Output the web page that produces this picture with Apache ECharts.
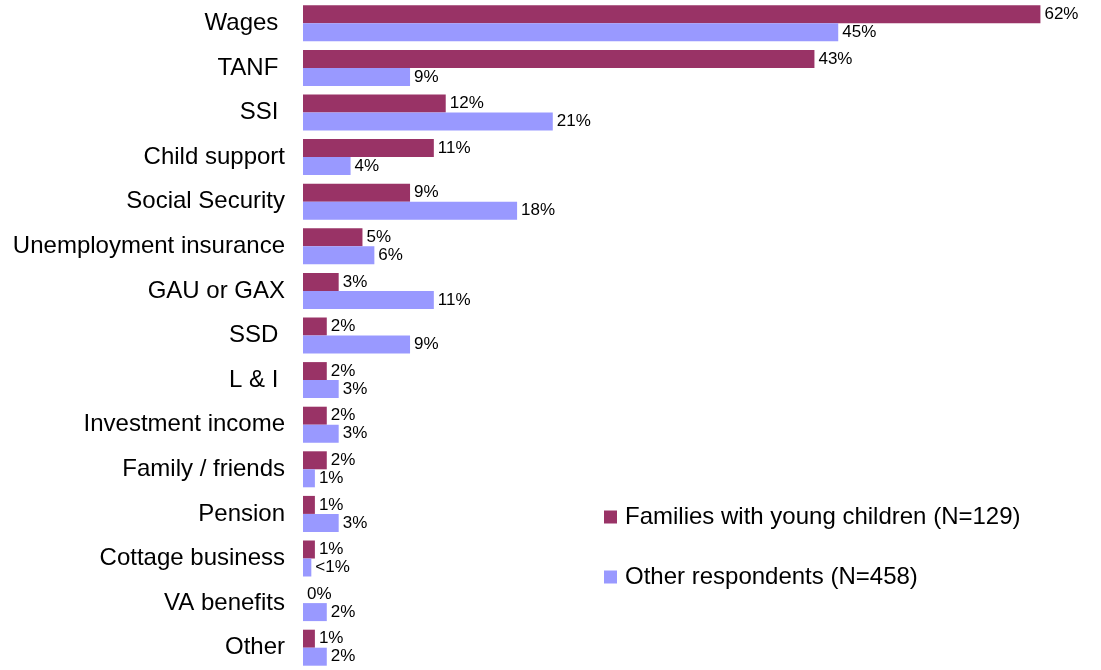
<!DOCTYPE html>
<html>
<head>
<meta charset="utf-8">
<script src="https://cdn.jsdelivr.net/npm/echarts@6/dist/echarts.min.js"></script>
<style>
  html, body { margin: 0; padding: 0; background: #fff; }
  #chart { width: 1101px; height: 670px; }
</style>
</head>
<body>
<div id="chart"></div>
<script>
// Income sources, listed top to bottom
const categories = [
  'Wages ', 'TANF ', 'SSI ', 'Child support', 'Social Security',
  'Unemployment insurance', 'GAU or GAX', 'SSD ', 'L & I ', 'Investment income',
  'Family / friends', 'Pension', 'Cottage business', 'VA benefits', 'Other'
];

// Share of respondents (%) reporting each source
const familiesValues = [62, 43, 12, 11, 9, 5, 3, 2, 2, 2, 2, 1, 1, 0, 1];
const otherValues    = [45, 9, 21, 4, 18, 6, 11, 9, 3, 3, 1, 3, 0.7, 2, 2];

// Printed labels (one value is only reported as "<1%")
const familiesLabels = ['62%', '43%', '12%', '11%', '9%', '5%', '3%', '2%', '2%', '2%', '2%', '1%', '1%', '0%', '1%'];
const otherLabels    = ['45%', '9%', '21%', '4%', '18%', '6%', '11%', '9%', '3%', '3%', '1%', '3%', '<1%', '2%', '2%'];

const seriesNames = ['Families with young children (N=129)', 'Other respondents (N=458)'];

const font = '"Liberation Sans", Arial, sans-serif';

const chart = echarts.init(document.getElementById('chart'), null, { renderer: 'canvas' });

function valueLabel(texts) {
  return {
    show: true,
    position: 'right',
    distance: 4,
    color: '#000',
    fontFamily: font,
    fontSize: 17,
    formatter: p => texts[p.dataIndex]
  };
}

chart.setOption({
  animation: false,
  backgroundColor: '#ffffff',
  grid: { left: 303, right: 13, top: 1, bottom: -3, containLabel: false },
  xAxis: {
    type: 'value',
    min: 0,
    max: 66,
    show: false
  },
  yAxis: {
    type: 'category',
    data: categories,
    inverse: true,
    axisLine: { show: false },
    axisTick: { show: false },
    splitLine: { show: false },
    axisLabel: {
      margin: 18,
      color: '#000',
      fontFamily: font,
      fontSize: 24,
      padding: [4, 0, 0, 0]
    }
  },
  legend: {
    orient: 'vertical',
    left: 599,
    top: 500,
    itemWidth: 13,
    itemHeight: 13,
    itemGap: 36,
    icon: 'rect',
    textStyle: {
      color: '#000',
      fontFamily: font,
      fontSize: 24,
      lineHeight: 24,
      padding: [0, 0, 0, 3]
    },
    data: seriesNames
  },
  series: [
    {
      name: seriesNames[0],
      type: 'bar',
      data: familiesValues,
      barWidth: 18,
      barGap: '0%',
      itemStyle: { color: '#993366' },
      label: valueLabel(familiesLabels)
    },
    {
      name: seriesNames[1],
      type: 'bar',
      data: otherValues,
      barWidth: 18,
      barGap: '0%',
      itemStyle: { color: '#9999FF' },
      label: valueLabel(otherLabels)
    }
  ]
});
</script>
</body>
</html>
